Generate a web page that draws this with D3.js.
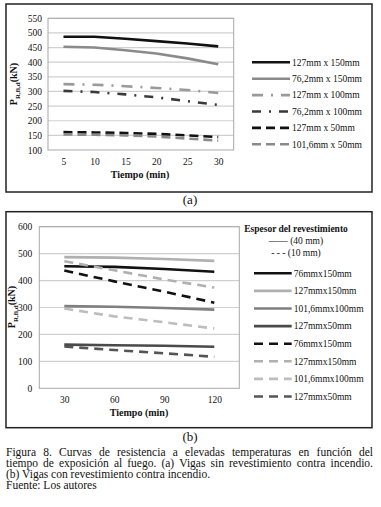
<!DOCTYPE html>
<html><head><meta charset="utf-8">
<script src="https://cdn.jsdelivr.net/npm/d3@7"></script>
<style>
body{margin:0;background:#fff;}
svg text{font-family:"Liberation Serif","DejaVu Serif","Noto Serif",serif !important;fill:#111;}
</style></head>
<body><svg id="c" width="381" height="507"></svg>
<script>
// ---- Chart (a) data ----
const timesA = [5, 10, 15, 20, 25, 30];
const yTicksA = [100, 150, 200, 250, 300, 350, 400, 450, 500, 550];
const namesA = ["127mm x 150mm", "76,2mm x 150mm", "127mm x 100mm", "76,2mm x 100mm", "127mm x 50mm", "101,6mm x 50mm"];
const a_127x150 = [487, 487, 480, 472, 464, 454];
const a_76x150  = [453, 450, 441, 430, 413, 393];
const a_127x100 = [325, 323, 318, 312, 305, 295];
const a_76x100  = [302, 298, 290, 280, 267, 254];
const a_127x50  = [161, 160, 158, 155, 150, 144];
const a_101x50  = [153, 152, 150, 146, 139, 132];
// ---- Chart (b) data ----
const timesB = [30, 60, 90, 120];
const yTicksB = [0, 100, 200, 300, 400, 500, 600];
const namesB = ["76mmx150mm", "127mmx150mm", "101,6mmx100mm", "127mmx50mm", "76mmx150mm", "127mmx150mm", "101,6mmx100mm", "127mmx50mm"];
const b40_76x150  = [453, 451, 443, 433];
const b40_127x150 = [487, 485, 480, 473];
const b40_101x100 = [305, 303, 298, 292];
const b40_127x50  = [162, 160, 158, 154];
const b10_76x150  = [437, 397, 359, 318];
const b10_127x150 = [472, 438, 404, 374];
const b10_101x100 = [296, 267, 245, 222];
const b10_127x50  = [155, 142, 130, 117];

const FONT = '"Liberation Serif","DejaVu Serif","Noto Serif",serif';
const svg = d3.select("#c");

function panel(o){
  const g = svg.append("g");
  g.append("rect").attr("x",o.box[0]).attr("y",o.box[1]).attr("width",o.box[2]).attr("height",o.box[3])
    .attr("fill","#fff").attr("stroke","#222").attr("stroke-width",1.5);
  const x = d3.scalePoint().domain(o.times).range([o.pl,o.pr]).padding(0.5);
  const y = d3.scaleLinear().domain(o.ydom).range([o.pb,o.pt]);
  g.append("g").selectAll("line").data(o.yticks.slice(1)).join("line")
    .attr("x1",o.pl).attr("x2",o.pr).attr("y1",d=>y(d)).attr("y2",d=>y(d))
    .attr("stroke","#d0d0d0").attr("stroke-width",1.2);
  g.append("rect").attr("x",o.pl).attr("y",o.pt).attr("width",o.pr-o.pl).attr("height",o.pb-o.pt)
    .attr("fill","none").attr("stroke","#a8a8a8").attr("stroke-width",1);
  const ya = g.append("g").attr("transform",`translate(${o.pl},0)`)
    .call(d3.axisLeft(y).tickValues(o.yticks).tickSize(0).tickPadding(o.ytp));
  ya.attr("font-family",FONT);
  ya.select(".domain").remove();
  ya.selectAll("text").attr("font-size",9.5).attr("fill","#111");
  const xa = g.append("g").attr("transform",`translate(0,${o.pb})`)
    .call(d3.axisBottom(x).tickSize(0).tickPadding(8));
  xa.attr("font-family",FONT);
  xa.select(".domain").remove();
  xa.selectAll("text").attr("font-size",9.5).attr("fill","#111");
  g.append("text").attr("x",o.xtx).attr("y",o.xty).attr("text-anchor","middle")
    .attr("font-size",10).attr("font-weight","bold").text("Tiempo (min)");
  const yl = g.append("text").attr("transform",`translate(${o.ylx},${o.yly}) rotate(-90)`)
    .attr("text-anchor","middle").attr("font-size",10).attr("font-weight","bold");
  yl.append("tspan").text("P");
  yl.append("tspan").attr("font-size",7).attr("dy",2.5).text(o.sub);
  yl.append("tspan").attr("dy",-2.5).text("(kN)");
  const line = d3.line().x((d,i)=>x(o.times[i])).y(d=>y(d));
  o.series.forEach(s=>{
    g.append("path").datum(s.v).attr("d",line).attr("fill","none")
      .attr("stroke",s.c).attr("stroke-width",2.6).attr("stroke-dasharray",s.dash||null);
  });
  o.series.forEach((s,i)=>{
    const ly = o.ly0 + i*o.lstep;
    g.append("line").attr("x1",o.lx1).attr("x2",o.lx2).attr("y1",ly).attr("y2",ly)
      .attr("stroke",s.c).attr("stroke-width",2.6).attr("stroke-dasharray",s.dash||null);
    g.append("text").attr("x",o.lx2+2).attr("y",ly+3.3).attr("font-size",9.5).text(s.n);
  });
  return g;
}

panel({
  box:[6,4,366,188], pl:48, pr:233.7, pt:18.3, pb:150, times:timesA, ydom:[100,550], yticks:yTicksA, ytp:6,
  xtx:140, xty:178, ylx:17, yly:84, sub:"R,fi,d",
  lx1:252, lx2:290, ly0:62.3, lstep:16.4,
  series:[
    {n:namesA[0], v:a_127x150, c:"#111"},
    {n:namesA[1], v:a_76x150,  c:"#8a8a8a"},
    {n:namesA[2], v:a_127x100, c:"#9a9a9a", dash:"11,8,2,8"},
    {n:namesA[3], v:a_76x100,  c:"#3a3a3a", dash:"9,8,2,8"},
    {n:namesA[4], v:a_127x50,  c:"#111", dash:"9,5"},
    {n:namesA[5], v:a_101x50,  c:"#8a8a8a", dash:"9,5"}
  ]
});

const gb = panel({
  box:[6,211.7,366,216], pl:39.3, pr:239.3, pt:226.7, pb:388.3, times:timesB, ydom:[0,600], yticks:yTicksB, ytp:7,
  xtx:139, xty:416, ylx:15, yly:307, sub:"R,fi,d",
  lx1:254, lx2:291.7, ly0:273.3, lstep:17.6,
  series:[
    {n:namesB[0], v:b40_76x150,  c:"#111"},
    {n:namesB[1], v:b40_127x150, c:"#b0b0b0"},
    {n:namesB[2], v:b40_101x100, c:"#7f7f7f"},
    {n:namesB[3], v:b40_127x50,  c:"#4a4a4a"},
    {n:namesB[4], v:b10_76x150,  c:"#111", dash:"9,6"},
    {n:namesB[5], v:b10_127x150, c:"#b0b0b0", dash:"9,6"},
    {n:namesB[6], v:b10_101x100, c:"#bdbdbd", dash:"9,6"},
    {n:namesB[7], v:b10_127x50,  c:"#555", dash:"9,6"}
  ]
});
gb.append("text").attr("x",296).attr("y",232).attr("text-anchor","middle").attr("font-size",9.5)
  .attr("font-weight","bold").text("Espesor del revestimiento");
gb.append("text").attr("x",296).attr("y",243.5).attr("text-anchor","middle").attr("font-size",9.5).text("—— (40 mm)");
gb.append("text").attr("x",296).attr("y",255.5).attr("text-anchor","middle").attr("font-size",9.5).text("- - - (10 mm)");

svg.append("text").attr("x",190).attr("y",204).attr("text-anchor","middle").attr("font-size",13).text("(a)");
svg.append("text").attr("x",190).attr("y",441).attr("text-anchor","middle").attr("font-size",13).text("(b)");
const cap = [
  {t:"Figura 8. Curvas de resistencia a elevadas temperaturas en función del", j:true},
  {t:"tiempo de exposición al fuego. (a) Vigas sin revestimiento contra incendio.", j:true},
  {t:"(b) Vigas con revestimiento contra incendio.", j:false},
  {t:"Fuente: Los autores", j:false}
];
const CF = 11.5;
cap.forEach((c,i)=>{
  const yy = 455.5+i*11;
  if(!c.j){
    svg.append("text").attr("x",6).attr("y",yy).attr("font-size",CF).text(c.t);
    return;
  }
  const words = c.t.split(" ");
  const ts = words.map(w=>svg.append("text").attr("y",yy).attr("font-size",CF).text(w));
  const widths = ts.map(t=>t.node().getComputedTextLength());
  const total = d3.sum(widths);
  const gap = Math.max(1.5,(367 - total)/(words.length-1));
  let xx = 6;
  ts.forEach((t,k)=>{ t.attr("x",xx); xx += widths[k] + gap; });
});
</script></body></html>
